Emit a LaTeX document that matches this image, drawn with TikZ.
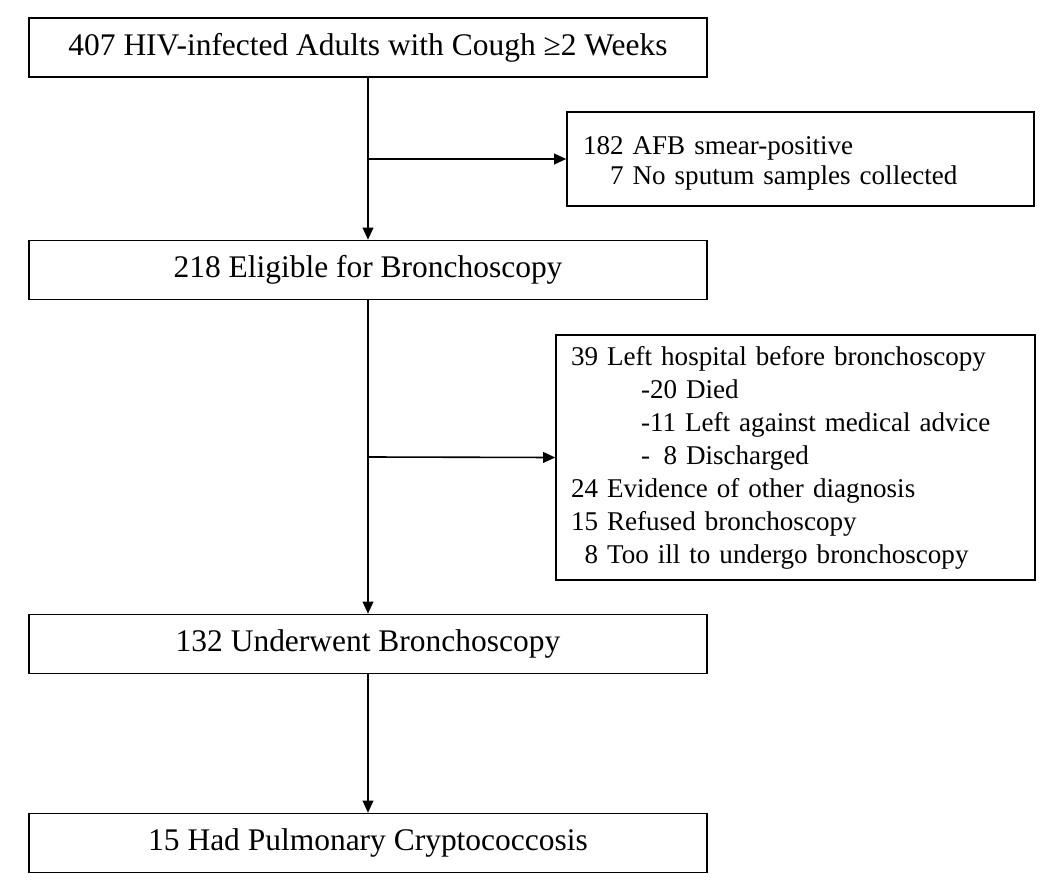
\documentclass[tikz,border=0pt]{standalone}
\usepackage{fontspec}
\setmainfont{Liberation Serif}
\usetikzlibrary{arrows.meta,positioning}

\begin{document}
\begin{tikzpicture}[x=0.75pt,y=0.75pt,yscale=-1,xscale=1,
  mainbox/.style={draw,line width=1.2pt,minimum width=508.5pt,minimum height=44.25pt,inner sep=0pt,font=\fontsize{23.6}{28}\selectfont},
  sidebox/.style={draw,line width=1.2pt,inner ysep=0pt,align=left},
  flow/.style={line width=1.2pt,-{Triangle[length=9pt,width=8pt]}}]
\useasboundingbox (0,0) rectangle (1050,891);

%Shape: Rectangle [main column]
\node[mainbox] (cough) at (368,47.5) {407 HIV-infected Adults with Cough \char"2265 2 Weeks};
\node[mainbox] (elig) at (368,270) {218 Eligible for Bronchoscopy};
\node[mainbox] (under) at (368,644) {132 Underwent Bronchoscopy};
\node[mainbox] (crypto) at (368,843) {15 Had Pulmonary Cryptococcosis};

%Shape: Rectangle [exclusions]
\node[sidebox,inner xsep=12pt,text width=326.25pt,minimum height=70.5pt,font=\fontsize{20.3}{22}\selectfont] (smear) at (800.5,159)
  {\rule{0pt}{20pt}182 AFB smear-positive\\
   \phantom{18}7 No sputum samples collected};
\node[sidebox,inner xsep=11.25pt,text width=336.75pt,minimum height=183.75pt,font=\fontsize{20.3}{24.75}\selectfont] (nobronch) at (795.5,457.5)
  {39 Left hospital before bronchoscopy\\
   \hspace*{52.5pt}-20 Died\\
   \hspace*{52.5pt}-11 Left against medical advice\\
   \hspace*{52.5pt}-\phantom{1}8 Discharged\\
   24 Evidence of other diagnosis\\
   15 Refused bronchoscopy\\
   \phantom{1}8 Too ill to undergo bronchoscopy};

%Split points on the main line
\coordinate (split1) at (368,159);
\coordinate (split2) at (368,457);

%Arrows
\draw[flow] (cough) -- (elig);
\draw[flow] (elig) -- (under);
\draw[flow] (under) -- (crypto);
\draw[flow] (split1) -- (smear.west);
\draw[flow] (split2) -- (nobronch.west);

\end{tikzpicture}
\end{document}
